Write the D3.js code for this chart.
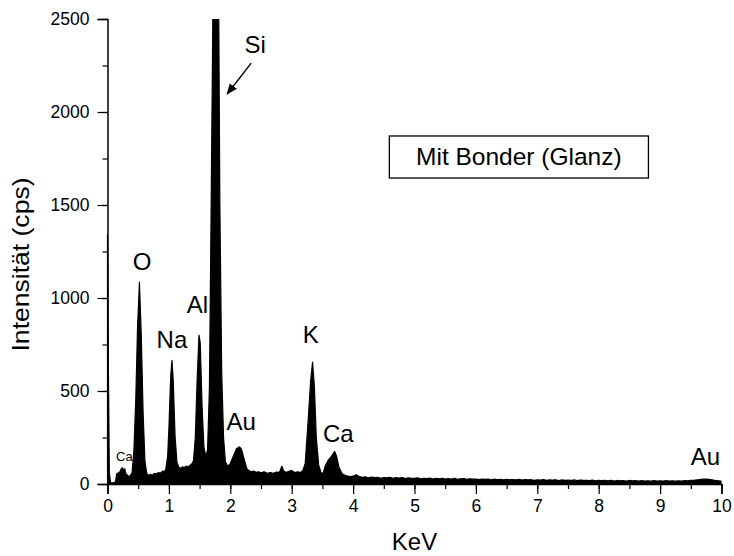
<!DOCTYPE html>
<html>
<head>
<meta charset="utf-8">
<script src="https://cdn.jsdelivr.net/npm/d3@7"></script>
<style>
  body { margin: 0; background: #fff; }
  text { font-family: "Liberation Sans", Arial, sans-serif; fill: #000; }
</style>
</head>
<body>
<div id="chart"></div>
<script>
// spectrum: [keV, cps]
var peakRegion = [
  [0.00, 1340], [0.015, 600], [0.03, 60], [0.05, 8], [0.10, 6], [0.13, 12],
  [0.15, 55], [0.18, 60], [0.20, 64], [0.22, 80], [0.24, 88], [0.26, 74],
  [0.28, 82], [0.30, 55], [0.33, 46], [0.36, 40], [0.40, 60], [0.43, 180],
  [0.46, 450], [0.49, 850], [0.52, 1085], [0.55, 800], [0.58, 380], [0.61, 120],
  [0.64, 55], [0.67, 46], [0.70, 52], [0.73, 47], [0.76, 56], [0.80, 54],
  [0.83, 62], [0.86, 58], [0.90, 70], [0.93, 66], [0.95, 80], [0.98, 150],
  [1.00, 300], [1.03, 580], [1.05, 665], [1.07, 560], [1.10, 260], [1.13, 120],
  [1.16, 90], [1.19, 84], [1.22, 92], [1.25, 88], [1.28, 96], [1.31, 92],
  [1.35, 102], [1.38, 110], [1.40, 125], [1.43, 250], [1.46, 560], [1.49, 800],
  [1.51, 760], [1.54, 420], [1.57, 200], [1.60, 148], [1.63, 185], [1.66, 520],
  [1.68, 1200], [1.71, 2300], [1.74, 3600], [1.77, 4000], [1.80, 3200],
  [1.83, 1500], [1.86, 600], [1.89, 250], [1.92, 120], [1.96, 95], [2.00, 110],
  [2.05, 150], [2.10, 190], [2.15, 200], [2.18, 188], [2.22, 140], [2.27, 82],
  [2.30, 72], [2.34, 66], [2.38, 70], [2.42, 63], [2.46, 66], [2.50, 60],
  [2.55, 66], [2.60, 58], [2.65, 62], [2.70, 58], [2.75, 64], [2.80, 62],
  [2.84, 95], [2.87, 70], [2.91, 62], [2.95, 68], [3.00, 72], [3.05, 62],
  [3.10, 66], [3.14, 62], [3.18, 72], [3.22, 110], [3.27, 350], [3.31, 560],
  [3.34, 655], [3.37, 520], [3.40, 250], [3.44, 100], [3.48, 60], [3.51, 56],
  [3.55, 100], [3.60, 130], [3.65, 150], [3.70, 175], [3.73, 150], [3.77, 90],
  [3.82, 55], [3.88, 45], [3.95, 40], [4.00, 42], [4.05, 50]
]

var tailRegion = [
  [4.10, 40], [4.15, 36], [4.20, 38], [4.25, 33], [4.30, 37], [4.35, 34],
  [4.40, 36], [4.45, 31], [4.50, 35], [4.55, 33], [4.60, 36], [4.65, 30],
  [4.70, 34], [4.75, 32], [4.80, 35], [4.85, 29], [4.90, 33], [4.95, 31],
  [5.00, 30], [5.05, 33], [5.10, 28], [5.15, 31], [5.20, 29], [5.25, 32],
  [5.30, 27], [5.35, 30], [5.40, 28], [5.45, 31], [5.50, 26], [5.55, 29],
  [5.60, 27], [5.65, 30], [5.70, 25], [5.75, 28], [5.80, 29], [5.85, 25],
  [5.90, 28], [5.95, 26], [6.00, 27], [6.05, 24], [6.10, 27], [6.15, 25],
  [6.20, 26], [6.25, 23], [6.30, 26], [6.35, 24], [6.40, 25], [6.45, 22],
  [6.50, 25], [6.55, 23], [6.60, 24], [6.65, 22], [6.70, 25], [6.75, 21],
  [6.80, 24], [6.85, 22], [6.90, 23], [6.95, 20], [7.00, 23], [7.05, 21],
  [7.10, 24], [7.15, 20], [7.20, 22], [7.25, 21], [7.30, 23], [7.35, 19],
  [7.40, 22], [7.45, 20], [7.50, 21], [7.55, 19], [7.60, 22], [7.65, 18],
  [7.70, 21], [7.75, 19], [7.80, 20], [7.85, 18], [7.90, 21], [7.95, 17],
  [8.00, 20], [8.05, 18], [8.10, 19], [8.15, 17], [8.20, 20], [8.25, 16],
  [8.30, 19], [8.35, 17], [8.40, 18], [8.45, 16], [8.50, 19], [8.55, 17],
  [8.60, 18], [8.65, 15], [8.70, 18], [8.75, 16], [8.80, 17], [8.85, 15],
  [8.90, 18], [8.95, 16], [9.00, 17], [9.05, 15], [9.10, 18], [9.15, 16],
  [9.20, 17], [9.25, 15], [9.30, 17], [9.35, 16], [9.40, 18], [9.45, 17],
  [9.50, 19], [9.55, 20], [9.60, 22], [9.65, 24], [9.70, 26], [9.75, 27],
  [9.80, 25], [9.85, 22], [9.90, 19], [9.95, 17], [10.00, 15]
]

// element labels: [text, keV of left edge, cps of baseline]
var elementLabels = [
  ["Si", 2.23, 2317], ["O", 0.41, 1150], ["Na", 0.80, 731], ["Al", 1.29, 919],
  ["Au", 1.94, 290], ["K", 3.18, 758], ["Ca", 3.51, 226], ["Au", 9.50, 102]
]

var xTicks = [0, 1, 2, 3, 4, 5, 6, 7, 8, 9, 10]
var yTicks = [0, 500, 1000, 1500, 2000, 2500]
var boxLabel = "Mit Bonder (Glanz)"

var margin = {top: 19, right: 12.5, bottom: 72, left: 107.5}
var width = 734 - margin.left - margin.right,
    height = 556 - margin.top - margin.bottom

var svg = d3.select("#chart").append("svg")
    .attr("width", 734)
    .attr("height", 556)
  .append("g")
    .attr("transform", "translate(" + margin.left + "," + margin.top + ")")

var xScale = d3.scaleLinear().domain([0, 10]).range([0, width])
var yScale = d3.scaleLinear().domain([0, 2500]).range([height, 0])

svg.append("clipPath").attr("id", "plotclip")
  .append("rect").attr("x", -2).attr("y", 0).attr("width", width + 2).attr("height", height)

var spectrum = peakRegion.concat(tailRegion)

var area = d3.area()
    .x(d => xScale(d[0]))
    .y0(height)
    .y1(d => yScale(d[1]))

svg.append("path")
  .datum(spectrum)
  .attr("clip-path", "url(#plotclip)")
  .attr("d", area)
  .attr("fill", "#000")
  .attr("stroke", "#000")
  .attr("stroke-width", 1.2)
  .attr("stroke-linejoin", "round")

// axes, minor ticks first then majors with labels
function minorTicks(scale, step) {
  var out = []
  var d = scale.domain()
  for (var v = d[0]; v <= d[1] + 1e-9; v += step) out.push(+v.toFixed(3))
  return out
}

svg.append("g")
  .attr("class", "axis x-minor")
  .attr("transform", "translate(0," + height + ")")
  .call(d3.axisBottom(xScale).tickValues(minorTicks(xScale, 0.5)).tickSize(5).tickFormat(""))

svg.append("g")
  .attr("class", "axis x-axis")
  .attr("transform", "translate(0," + height + ")")
  .call(d3.axisBottom(xScale).tickValues(xTicks).tickSize(10).tickPadding(6).tickFormat(d3.format("d")))

svg.append("g")
  .attr("class", "axis y-minor")
  .call(d3.axisLeft(yScale).tickValues(minorTicks(yScale, 250)).tickSize(5).tickFormat(""))

svg.append("g")
  .attr("class", "axis y-axis")
  .call(d3.axisLeft(yScale).tickValues(yTicks).tickSize(10).tickPadding(8).tickFormat(d3.format("d")))

svg.selectAll(".axis path").attr("stroke", "#000").attr("stroke-width", 1.5)
svg.selectAll(".axis line").attr("stroke", "#000").attr("stroke-width", 1.2)
svg.selectAll(".axis text").attr("font-size", 17.5).attr("font-family", "Liberation Sans, Arial, sans-serif")
svg.selectAll(".y-minor path, .x-minor path").remove()

// axis titles
svg.append("text")
  .attr("x", xScale(5))
  .attr("y", height + 66)
  .attr("text-anchor", "middle")
  .attr("font-size", 24)
  .text("KeV")

svg.append("text")
  .attr("transform", "translate(" + (-79) + "," + (yScale(1250) + 13) + ") rotate(-90)")
  .attr("text-anchor", "middle")
  .attr("font-size", 24)
  .attr("textLength", 174)
  .attr("lengthAdjust", "spacingAndGlyphs")
  .text("Intensität (cps)")

// element labels
svg.selectAll(".elabel")
  .data(elementLabels)
  .enter().append("text")
  .attr("class", "elabel")
  .attr("x", d => xScale(d[1]))
  .attr("y", d => yScale(d[2]))
  .attr("font-size", 24)
  .text(d => d[0])

// the small Ca label near the origin
svg.append("text")
  .attr("x", xScale(0.14))
  .attr("y", yScale(121))
  .attr("font-size", 13)
  .text("Ca")

// arrow pointing at the Si peak
svg.append("defs").append("marker")
  .attr("id", "arrowhead")
  .attr("viewBox", "0 0 10 10")
  .attr("refX", 9).attr("refY", 5)
  .attr("markerWidth", 8).attr("markerHeight", 8)
  .attr("orient", "auto")
  .append("path")
  .attr("d", "M0,1 L10,5 L0,9 Z")
  .attr("fill", "#000")

svg.append("line")
  .attr("x1", xScale(2.34)).attr("y1", yScale(2263))
  .attr("x2", xScale(1.95)).attr("y2", yScale(2097))
  .attr("stroke", "#000")
  .attr("stroke-width", 1.4)
  .attr("marker-end", "url(#arrowhead)")

// legend-ish box
var box = svg.append("g")
box.append("rect")
  .attr("x", xScale(4.59))
  .attr("y", yScale(1871))
  .attr("width", xScale(4.22) - xScale(0))
  .attr("height", yScale(0) - yScale(226))
  .attr("fill", "#fff")
  .attr("stroke", "#000")
  .attr("stroke-width", 1.3)

box.append("text")
  .attr("x", xScale(6.70))
  .attr("y", yScale(1715))
  .attr("text-anchor", "middle")
  .attr("font-size", 24.5)
  .text(boxLabel)
</script>
</body>
</html>
